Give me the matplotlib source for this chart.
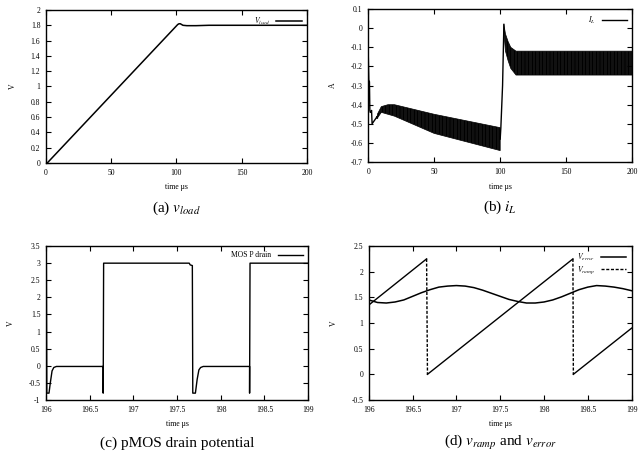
import matplotlib
matplotlib.use("Agg")
import matplotlib.pyplot as plt
import numpy as np

plt.rcParams['font.family'] = ['Liberation Serif', 'DejaVu Serif']
plt.rcParams['mathtext.fontset'] = 'stix'
plt.rcParams['axes.unicode_minus'] = False
plt.rcParams['hatch.linewidth'] = 0.95

# (a) load voltage
t_load = [0, 1, 101, 102, 103, 105, 108, 115, 125, 200]
v_load = [0.0, 0.0, 1.81, 1.82, 1.82, 1.80, 1.795, 1.795, 1.80, 1.80]

# (b) inductor current: start transient, ripple envelopes, step
t_il_start = [0, 0.5, 1.0, 1.3, 1.6, 2.2, 2.6, 3.0, 5.0, 7.0]
il_start = [-0.10, -0.27, -0.28, -0.43, -0.44, -0.44, -0.43, -0.50, -0.48, -0.46]
t_env1 = [7, 10, 15, 20, 50, 100]
il_env1_hi = [-0.45, -0.41, -0.40, -0.40, -0.45, -0.52]
il_env1_lo = [-0.47, -0.44, -0.45, -0.46, -0.55, -0.64]
t_il_step = [100.0, 100.5, 101.8, 102.8]
il_step = [-0.58, -0.52, -0.30, 0.02]
t_env2 = [102.8, 104, 106, 108, 112, 200]
il_env2_hi = [0.02, -0.03, -0.07, -0.10, -0.12, -0.12]
il_env2_lo = [-0.02, -0.12, -0.17, -0.21, -0.245, -0.245]

# (c) pMOS drain potential
t_drain = [196.0, 196.005, 196.01, 196.035, 196.05, 196.07, 196.09, 196.12,
           196.655, 196.655, 196.66, 197.64, 197.65, 197.675, 197.68, 197.71,
           197.73, 197.75, 197.77, 197.80, 198.33, 198.33, 198.335, 199.0]
v_drain = [3.0, 3.0, -0.8, -0.8, -0.5, -0.15, -0.05, -0.02,
           -0.02, -0.8, 3.0, 3.0, 2.95, 2.93, -0.8, -0.8,
           -0.4, -0.12, -0.05, -0.02, -0.02, -0.8, 3.0, 3.0]

# (d) ramp and error voltages
t_ramp = [196.0, 196.66, 196.67, 198.33, 198.335, 199.0]
v_ramp = [1.35, 2.25, 0.0, 2.25, 0.0, 0.9]
t_err = [196.0, 196.1, 196.2, 196.3, 196.4, 196.5, 196.6, 196.7, 196.8, 196.9,
         197.0, 197.1, 197.2, 197.3, 197.4, 197.5, 197.6, 197.7, 197.8, 197.9,
         198.0, 198.1, 198.2, 198.3, 198.4, 198.5, 198.6, 198.7, 198.8, 198.9, 199.0]
v_err = [1.45, 1.40, 1.39, 1.41, 1.45, 1.52, 1.59, 1.65, 1.70, 1.72,
         1.73, 1.72, 1.69, 1.64, 1.58, 1.52, 1.46, 1.42, 1.39, 1.39,
         1.41, 1.45, 1.51, 1.58, 1.65, 1.70, 1.73, 1.72, 1.70, 1.67, 1.63]

fig = plt.figure(figsize=(6.38, 4.54), dpi=100)
ax_a = fig.add_axes([0.072, 0.641, 0.409, 0.337])
ax_b = fig.add_axes([0.577, 0.643, 0.414, 0.337])
ax_c = fig.add_axes([0.072, 0.119, 0.411, 0.339])
ax_d = fig.add_axes([0.578, 0.119, 0.412, 0.339])


def style(ax, ylab):
    ax.tick_params(direction='in', top=True, right=True, length=3.5, width=0.8,
                   labelsize=5.5, pad=4)
    for s in ax.spines.values():
        s.set_linewidth(1.0)
    ax.set_xlabel(u'time \u00b5s', fontsize=5.5, labelpad=5)
    ax.set_ylabel(ylab, fontsize=5.5, labelpad=10)
    ax.xaxis.set_major_formatter(matplotlib.ticker.FormatStrFormatter('%g'))
    ax.yaxis.set_major_formatter(matplotlib.ticker.FormatStrFormatter('%g'))


def legend(ax, **kw):
    ax.legend(loc='upper right', frameon=False, markerfirst=False, fontsize=5.5,
              handlelength=3.3, borderaxespad=0.3, labelspacing=0.2, **kw)


# (a)
ax_a.plot(t_load, v_load, color='black', lw=1.1, label='$V_{load}$')
ax_a.set_xlim(0, 200)
ax_a.set_ylim(0, 2)
ax_a.set_xticks(np.arange(0, 201, 50))
ax_a.set_yticks(np.round(np.arange(0, 2.01, 0.2), 1) + 0.0)
style(ax_a, 'V')
legend(ax_a)
ax_a.text(0.5, -0.294, '(a) $v_{load}$', transform=ax_a.transAxes,
          ha='center', va='center', fontsize=11)

# (b)
ax_b.plot(t_il_start + t_env1[:1], il_start + il_env1_lo[:1], color='black', lw=1.0,
          label='$I_L$')
ax_b.fill_between(t_env1, il_env1_lo, il_env1_hi, facecolor='none',
                  edgecolor='black', hatch='|' * 12, linewidth=0.5)
ax_b.plot(t_il_step, il_step, color='black', lw=1.0)
ax_b.fill_between(t_env2, il_env2_lo, il_env2_hi, facecolor='none',
                  edgecolor='black', hatch='|' * 12, linewidth=0.5)
ax_b.set_xlim(0, 200)
ax_b.set_ylim(-0.7, 0.1)
ax_b.set_xticks(np.arange(0, 201, 50))
ax_b.set_yticks(np.round(np.arange(-0.7, 0.11, 0.1), 1) + 0.0)
style(ax_b, 'A')
legend(ax_b)
ax_b.text(0.5, -0.294, '(b) $i_L$', transform=ax_b.transAxes,
          ha='center', va='center', fontsize=11)

# (c)
ax_c.plot(t_drain, v_drain, color='black', lw=1.0, label='MOS P drain')
ax_c.set_xlim(196, 199)
ax_c.set_ylim(-1, 3.5)
ax_c.set_xticks(np.arange(196, 199.01, 0.5))
ax_c.set_yticks(np.arange(-1, 3.51, 0.5))
style(ax_c, 'V')
legend(ax_c)
ax_c.text(0.5, -0.279, '(c) pMOS drain potential', transform=ax_c.transAxes,
          ha='center', va='center', fontsize=11)

# (d)
ax_d.plot(t_err, v_err, color='black', lw=1.1, label='$V_{error}$')
ax_d.plot([], [], color='black', lw=1.0, dashes=(2.2, 1.2), label='$V_{ramp}$')
for i in range(len(t_ramp) - 1):
    seg_t = t_ramp[i:i + 2]
    seg_v = v_ramp[i:i + 2]
    if seg_v[1] < seg_v[0]:
        ax_d.plot(seg_t, seg_v, color='black', lw=1.0, dashes=(2.2, 1.2))
    else:
        ax_d.plot(seg_t, seg_v, color='black', lw=1.0)
ax_d.set_xlim(196, 199)
ax_d.set_ylim(-0.5, 2.5)
ax_d.set_xticks(np.arange(196, 199.01, 0.5))
ax_d.set_yticks(np.arange(-0.5, 2.51, 0.5))
style(ax_d, 'V')
legend(ax_d)
ax_d.text(0.5, -0.279, '(d) $v_{ramp}$ and $v_{error}$', transform=ax_d.transAxes,
          ha='center', va='center', fontsize=11)

fig.savefig('out.png', dpi=100)
